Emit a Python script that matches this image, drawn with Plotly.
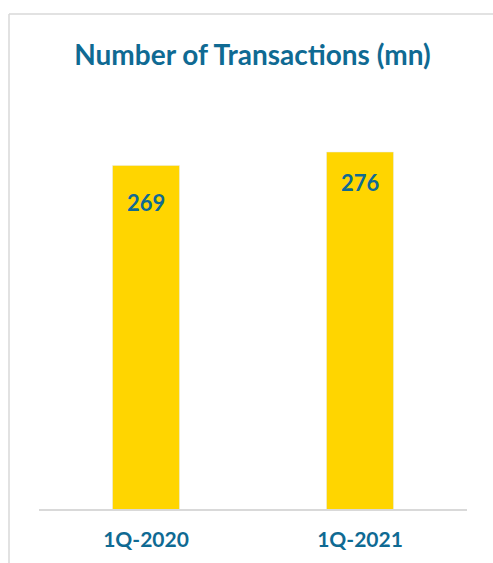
import plotly.graph_objects as go

categories = ["1Q-2020", "1Q-2021"]
values = [269, 276]
title_text = "Number of Transactions (mn)"

BLUE = "#0F6A93"
YELLOW = "#FFD500"
FONT = "Lato"

W, H = 493, 563
ml, mr, mt, mb = 39, 26, 100, 54
plot_h = H - mt - mb
px_per_unit = 1.914
ymin = values[1] - 357 / px_per_unit
ymax = ymin + plot_h / px_per_unit

fig = go.Figure()
fig.add_trace(go.Bar(
    x=categories, y=values, marker_color=YELLOW, width=0.313,
    hoverinfo="x+y",
))
for c, v, shift in zip(categories, values, [-37, -30]):
    fig.add_annotation(x=c, y=v, text=f"<b>{v}</b>", showarrow=False,
                       yshift=shift, font=dict(family=FONT, size=22, color=BLUE))

fig.update_layout(
    width=W, height=H,
    margin=dict(l=ml, r=mr, t=mt, b=mb),
    paper_bgcolor="white", plot_bgcolor="white",
    showlegend=False,
    title=dict(text=f"<b>{title_text}</b>", x=(252.5) / W, xanchor="center",
               y=1 - 55 / H, yanchor="middle",
               font=dict(family=FONT, size=28, color=BLUE)),
    xaxis=dict(showgrid=False, showline=True, linecolor="#D9D9D9", linewidth=1.5,
               ticks="", ticklabelstandoff=11,
               tickfont=dict(family=FONT, size=21, color=BLUE),
               tickprefix="<b>", ticksuffix="</b>"),
    yaxis=dict(range=[ymin, ymax], visible=False, showgrid=False),
    shapes=[
        dict(type="line", xref="paper", yref="paper",
             x0=(9 - ml) / (W - ml - mr), x1=(W + 5 - ml) / (W - ml - mr),
             y0=(H - 14 - mb) / plot_h, y1=(H - 14 - mb) / plot_h,
             line=dict(color="#D9D9D9", width=1.5)),
        dict(type="line", xref="paper", yref="paper",
             x0=(9 - ml) / (W - ml - mr), x1=(9 - ml) / (W - ml - mr),
             y0=(H - 14 - mb) / plot_h, y1=(-10 - mb) / plot_h,
             line=dict(color="#D9D9D9", width=1.5)),
    ],
)
fig.write_html("out.html", config={"displayModeBar": False},
               post_script="document.body.style.margin='0px';")
